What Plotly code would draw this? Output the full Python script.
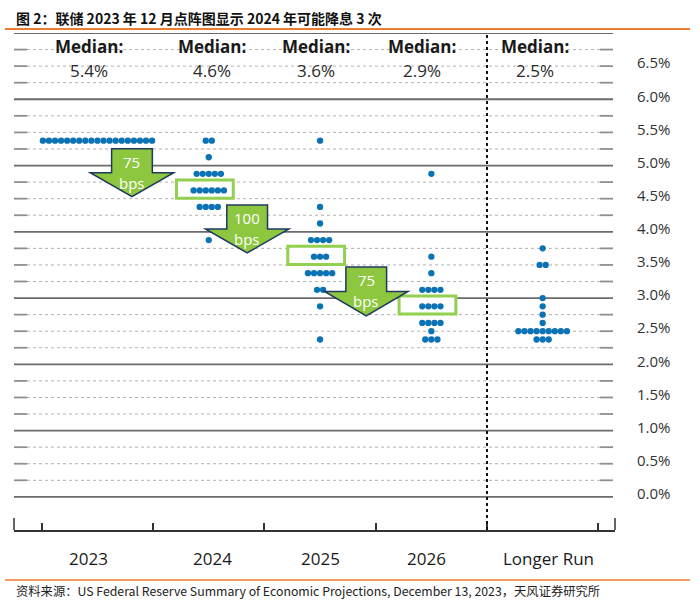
import plotly.graph_objects as go

# ---------------- data ----------------
categories = ["2023", "2024", "2025", "2026", "Longer Run"]
median_labels = ["5.4%", "4.6%", "3.6%", "2.9%", "2.5%"]

rates_2023 = [5.375]
counts_2023 = [19]
rates_2024 = [5.375, 5.125, 4.875, 4.625, 4.375, 3.875]
counts_2024 = [2, 1, 5, 6, 4, 1]
rates_2025 = [5.375, 4.375, 4.125, 3.875, 3.625, 3.375, 3.125, 2.875, 2.375]
counts_2025 = [1, 1, 1, 4, 3, 5, 2, 1, 1]
rates_2026 = [4.875, 3.625, 3.375, 3.125, 2.875, 2.625, 2.5, 2.375]
counts_2026 = [1, 1, 1, 4, 4, 4, 1, 3]
rates_lr = [3.75, 3.5, 3.0, 2.875, 2.75, 2.625, 2.5, 2.375]
counts_lr = [1, 2, 1, 1, 1, 1, 9, 3]

boxed_medians = [4.625, 3.625, 2.875]      # 2024, 2025, 2026 median bins
boxed_cats = [1, 2, 3]
cut_labels = ["75", "100", "75"]

ytick_vals = [i * 0.5 for i in range(14)]
ytick_text = [f"{v:.1f}%" for v in ytick_vals]

title_text = "图 2：联储 2023 年 12 月点阵图显示 2024 年可能降息 3 次"
source_text = "资料来源：US Federal Reserve Summary of Economic Projections, December 13, 2023，天风证券研究所"

# ---------------- layout constants ----------------
W, H = 700, 604
ML, MR, MT, MB = 14, 85, 33, 74
PW = W - ML - MR
PH = H - MT - MB
XR = [-0.75, 4.65]
YR = [-0.5, 7.0]

def pxx(px):
    return (px - ML) / PW

def pxy(py):
    return (H - MB - py) / PH

DOT_STEP = 0.0545
DOT_COLOR = "#0b72b5"
GREEN_FILL = "#8DC63F"
BOX_GREEN = "#92D050"
NAVY = "#1F3A5F"
ORANGE = "#ED7D31"

fig = go.Figure()

# ---------------- dots ----------------
all_rates = [rates_2023, rates_2024, rates_2025, rates_2026, rates_lr]
all_counts = [counts_2023, counts_2024, counts_2025, counts_2026, counts_lr]
xs, ys = [], []
for ci, (rates, counts) in enumerate(zip(all_rates, all_counts)):
    for r, n in zip(rates, counts):
        for k in range(n):
            xs.append(ci + (k - (n - 1) / 2) * DOT_STEP)
            ys.append(r)
fig.add_trace(go.Scatter(x=xs, y=ys, mode="markers",
                         marker=dict(size=6.3, color=DOT_COLOR, line=dict(width=0)),
                         hoverinfo="skip", showlegend=False))

shapes = []
# ---------------- grid ----------------
n_levels = int(round(YR[1] / 0.25))
for j in range(n_levels + 1):
    lv = j * 0.25
    if abs(lv - round(lv)) < 1e-9:
        shapes.append(dict(type="line", xref="paper", yref="y", x0=0, x1=pxx(613), y0=lv, y1=lv,
                           line=dict(color="#6b6b6b", width=1.8), layer="below"))
    else:
        shapes.append(dict(type="line", xref="paper", yref="y", x0=pxx(27), x1=pxx(600), y0=lv, y1=lv,
                           line=dict(color="#b0b0b0", width=1, dash="dot"), layer="below"))
        shapes.append(dict(type="line", xref="paper", yref="y", x0=0, x1=pxx(27), y0=lv, y1=lv,
                           line=dict(color="#8f8f8f", width=1.8), layer="below"))
        shapes.append(dict(type="line", xref="paper", yref="y", x0=pxx(600), x1=pxx(613), y0=lv, y1=lv,
                           line=dict(color="#8f8f8f", width=1.8), layer="below"))

# ---------------- median boxes ----------------
for c, m in zip(boxed_cats, boxed_medians):
    shapes.append(dict(type="rect", xref="x", yref="y",
                       x0=c - 0.035 - 0.255, x1=c - 0.035 + 0.255,
                       y0=m + 0.02 - 0.137, y1=m + 0.02 + 0.137,
                       line=dict(color=BOX_GREEN, width=3), fillcolor="white", layer="below"))

# vertical dotted divider between 2026 and Longer Run
shapes.append(dict(type="line", xref="x", yref="paper", x0=3.5, x1=3.5, y0=0, y1=1,
                   line=dict(color="#111111", width=2, dash="dot")))

# axis end caps
for xp in (0, 1):
    shapes.append(dict(type="line", xref="paper", yref="paper", x0=xp, x1=xp, y0=0, y1=12 / PH,
                       line=dict(color="#333333", width=1.5)))

# ---------------- arrows ----------------
arrow_cx = [0.31, 1.345, 2.415]
arrow_top = [5.253, 4.406, 3.47]
arrow_tip = [4.53, 3.681, 2.73]
SHAFT_HW, HEAD_HW = 0.183, 0.375
annotations = []
for cx, top, tip, lab in zip(arrow_cx, arrow_top, arrow_tip, cut_labels):
    wing = tip + (top - tip) * 0.5
    path = (f"M {cx - SHAFT_HW},{top} L {cx + SHAFT_HW},{top} L {cx + SHAFT_HW},{wing} "
            f"L {cx + HEAD_HW},{wing} L {cx},{tip} L {cx - HEAD_HW},{wing} "
            f"L {cx - SHAFT_HW},{wing} Z")
    shapes.append(dict(type="path", xref="x", yref="y", path=path,
                       fillcolor=GREEN_FILL, line=dict(color=NAVY, width=1.5), layer="above"))
    annotations.append(dict(x=cx, y=top - 0.2, xref="x", yref="y", text=lab, showarrow=False,
                            yanchor="middle", xanchor="center",
                            font=dict(family="Open Sans", size=15, color="white")))
    annotations.append(dict(x=cx, y=top - 0.51, xref="x", yref="y", text="bps", showarrow=False,
                            yanchor="middle", xanchor="center",
                            font=dict(family="Open Sans", size=15, color="white")))

# ---------------- median labels ----------------
median_dx = [-0.076, 0.03, -0.04, -0.08, -0.07]
for ci, (lab, dx) in enumerate(zip(median_labels, median_dx)):
    annotations.append(dict(x=ci + dx, y=pxy(47), xref="x", yref="paper", text="<b>Median:</b>",
                            showarrow=False, xanchor="center", yanchor="middle",
                            font=dict(family="Open Sans", size=17, color="#1a1a1a")))
    annotations.append(dict(x=ci + dx, y=pxy(70), xref="x", yref="paper", text=lab,
                            showarrow=False, xanchor="center", yanchor="middle",
                            font=dict(family="Open Sans", size=17, color="#2a2a2a")))

# ---------------- category labels ----------------
cat_dx = [-0.085, 0.035, 0.0, -0.04, 0.05]
for ci, (lab, dx) in enumerate(zip(categories, cat_dx)):
    annotations.append(dict(x=ci + dx, y=pxy(558), xref="x", yref="paper", text=lab,
                            showarrow=False, xanchor="center", yanchor="middle",
                            font=dict(family="Open Sans", size=17, color="#1a1a1a")))

# ---------------- title / footer ----------------
annotations.append(dict(x=pxx(14), y=pxy(18), xref="paper", yref="paper", text="<b>" + title_text + "</b>",
                        showarrow=False, xanchor="left", yanchor="middle",
                        font=dict(family="Noto Sans CJK SC", size=14, color="#111111")))
annotations.append(dict(x=pxx(14), y=pxy(591), xref="paper", yref="paper", text=source_text,
                        showarrow=False, xanchor="left", yanchor="middle",
                        font=dict(family="Noto Sans CJK SC", size=12.3, color="#222222")))
shapes.append(dict(type="line", xref="paper", yref="paper", x0=pxx(5), x1=pxx(690), y0=pxy(29), y1=pxy(29),
                   line=dict(color=ORANGE, width=2)))
shapes.append(dict(type="line", xref="paper", yref="paper", x0=pxx(5), x1=pxx(690), y0=pxy(580), y1=pxy(580),
                   line=dict(color=ORANGE, width=1.5)))

fig.update_layout(
    width=W, height=H,
    margin=dict(l=ML, r=MR, t=MT, b=MB, pad=0),
    paper_bgcolor="white", plot_bgcolor="white",
    showlegend=False,
    shapes=shapes, annotations=annotations,
    xaxis=dict(range=XR, showgrid=False, zeroline=False, showticklabels=False,
               showline=True, linecolor="#333333", linewidth=1.5,
               tickvals=[-0.5, 0.5, 1.5, 2.5, 3.5, 4.5], ticks="inside", ticklen=7,
               tickcolor="#333333", tickwidth=1.5, fixedrange=True),
    yaxis=dict(range=YR, side="right", showgrid=False, zeroline=False, showline=False,
               tickvals=ytick_vals, ticktext=ytick_text, ticks="",
               tickfont=dict(family="Open Sans", size=15, color="#333333"),
               ticklabelstandoff=21, ticklabelshift=-3, fixedrange=True),
)

fig.write_html("out.html", config={"displayModeBar": False},
               post_script="document.body.style.margin='0px';")
